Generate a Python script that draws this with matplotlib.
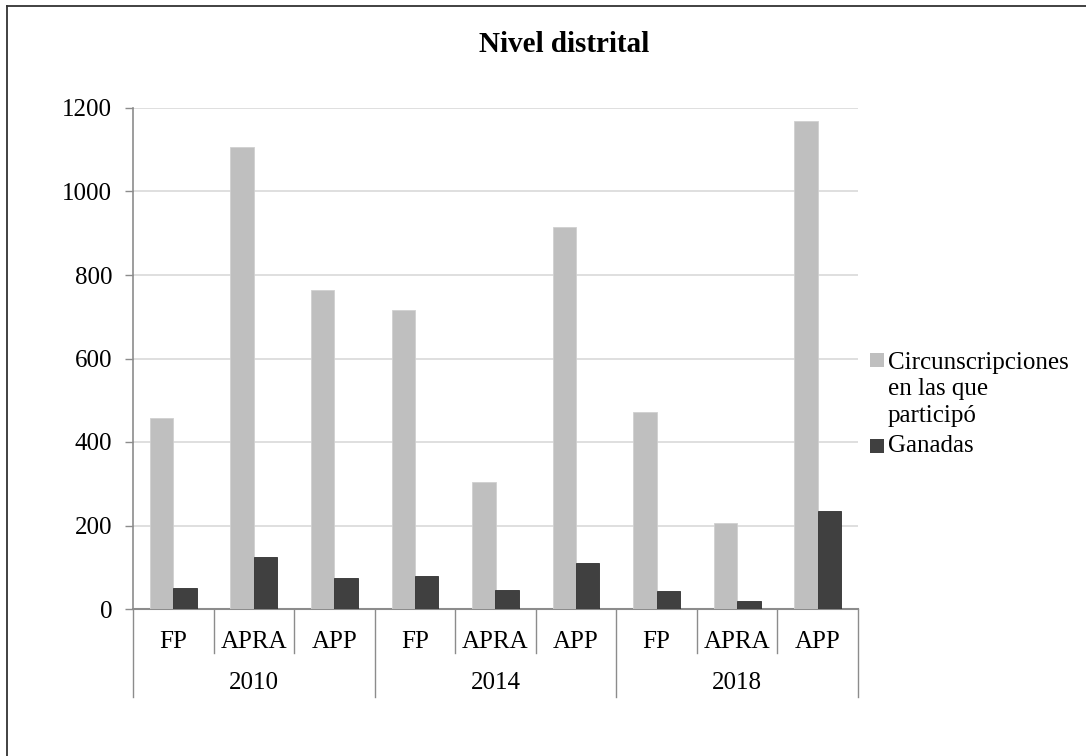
import matplotlib
matplotlib.use("Agg")
import matplotlib.pyplot as plt
import matplotlib.transforms as mtransforms
from matplotlib.patches import Rectangle
from matplotlib.lines import Line2D
import numpy as np

years = ["2010", "2014", "2018"]
parties = ["FP", "APRA", "APP"]
participo = [457, 1106, 764, 715, 305, 914, 471, 207, 1168]
ganadas = [51, 125, 75, 79, 45, 110, 44, 20, 234]
yticks = [0, 200, 400, 600, 800, 1000, 1200]
title = "Nivel distrital"
label_participo = "Circunscripciones\nen las que\nparticipó"
label_ganadas = "Ganadas"

c_light = "#bfbfbf"
c_dark = "#404040"
grid_c = "#d9d9d9"
axis_c = "#8c8c8c"

plt.rcParams["font.family"] = ["Liberation Serif", "DejaVu Serif"]
FS = 18

W, H = 1086, 756
fig = plt.figure(figsize=(W / 100, H / 100), dpi=100)
ax = fig.add_axes([133 / W, 1 - 609 / H, (858 - 133) / W, (609 - 108) / H])

n = len(participo)
x = np.arange(n)
bw = 0.29
ax.bar(x - bw / 2, participo, width=bw, color=c_light, edgecolor="#d0d0d0", linewidth=0.6, zorder=3)
ax.bar(x + bw / 2, ganadas, width=bw, color=c_dark, edgecolor="#303030", linewidth=0.6, zorder=3)

ax.set_xlim(-0.5, n - 0.5)
ax.set_ylim(0, 1200)
ax.set_yticks(yticks)
ax.set_yticklabels([str(v) for v in yticks], fontsize=FS)
ax.tick_params(axis="y", length=6, width=1, color=axis_c, pad=9)
ax.set_xticks([])
ax.yaxis.grid(True, color=grid_c, linewidth=1.2, zorder=0)
for s in ["top", "right"]:
    ax.spines[s].set_visible(False)
ax.spines["left"].set_color(axis_c)
ax.spines["bottom"].set_color(axis_c)
ax.spines["left"].set_linewidth(1.2)
ax.spines["bottom"].set_linewidth(1.5)

trans = mtransforms.blended_transform_factory(ax.transData, ax.transAxes)
ph = 609 - 108
y_inner = -(653 - 609) / ph
y_outer = -(697 - 609) / ph
for i in range(n):
    ax.text(i, -(642 - 609) / ph, parties[i % 3], transform=trans,
            ha="center", va="center", fontsize=FS)
for i in range(1, n):
    if i % 3 == 0:
        continue
    ax.add_line(Line2D([i - 0.5, i - 0.5], [0, y_inner], transform=trans,
                       color=axis_c, linewidth=1.0, clip_on=False))
for g in range(len(years) + 1):
    xx = g * 3 - 0.5
    ax.add_line(Line2D([xx, xx], [0, y_outer], transform=trans,
                       color=axis_c, linewidth=1.0, clip_on=False))
for g, yr in enumerate(years):
    ax.text(g * 3 + 1, -(683 - 609) / ph, yr, transform=trans,
            ha="center", va="center", fontsize=FS)

fig.text(564 / W, 1 - 45 / H, title, ha="center", va="center", fontsize=21, fontweight="bold")

# legend
sq = 14
fig.patches.append(Rectangle((870 / W, 1 - (360 + sq / 2) / H), sq / W, sq / H,
                             transform=fig.transFigure, facecolor=c_light, edgecolor="none"))
fig.patches.append(Rectangle((870 / W, 1 - (446 + sq / 2) / H), sq / W, sq / H,
                             transform=fig.transFigure, facecolor=c_dark, edgecolor="none"))
fig.text(888 / W, 1 - 389.5 / H, label_participo, ha="left", va="center", fontsize=FS, linespacing=1.26)
fig.text(888 / W, 1 - 446 / H, label_ganadas, ha="left", va="center", fontsize=FS)

# outer frame (top and left visible)
fig.add_artist(Line2D([7 / W, 1.0], [1 - 6 / H, 1 - 6 / H], transform=fig.transFigure, color="#333333", linewidth=1.3))
fig.add_artist(Line2D([7 / W, 7 / W], [1 - 6 / H, 0], transform=fig.transFigure, color="#333333", linewidth=1.3))

fig.savefig("out.png", dpi=100)
